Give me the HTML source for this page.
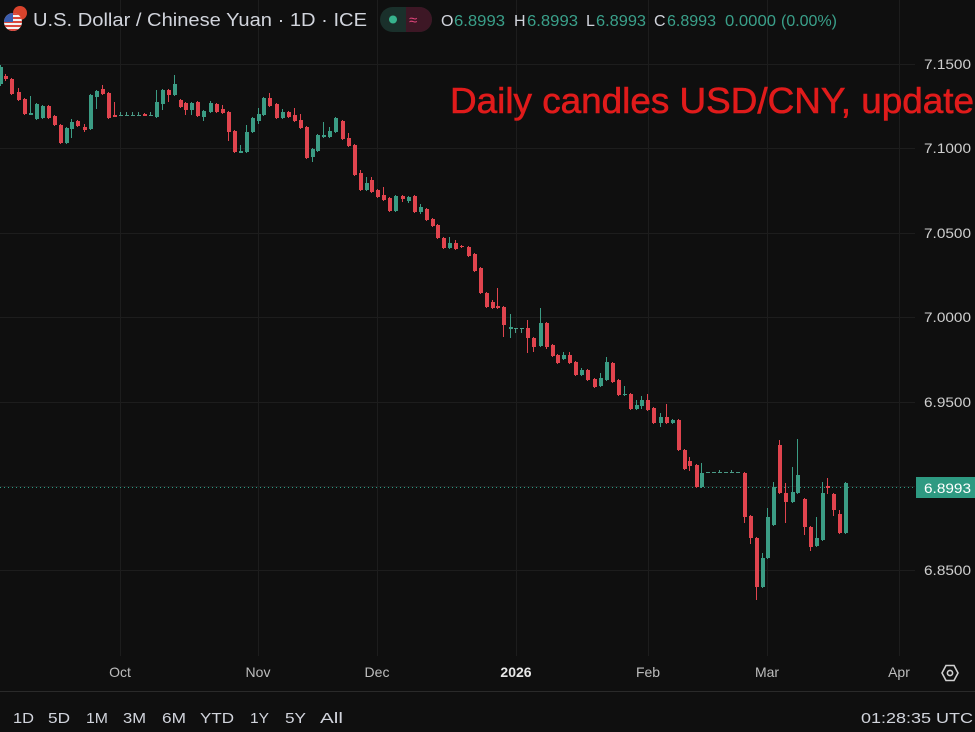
<!DOCTYPE html>
<html><head><meta charset="utf-8"><style>
html,body{margin:0;padding:0;background:#0f0f0f;}
svg{display:block;}
text{font-family:"Liberation Sans",sans-serif;}
.g{fill:#3b9c84}.r{fill:#e0444e}.f{fill:#4a9a86}
</style></head><body>
<svg width="975" height="732" viewBox="0 0 975 732" xmlns="http://www.w3.org/2000/svg">
<rect width="975" height="732" fill="#0f0f0f"/>
<!-- grid -->
<g fill="#1d1d1d">
<rect x="0" y="64" width="915" height="1"/>
<rect x="0" y="148" width="915" height="1"/>
<rect x="0" y="233" width="915" height="1"/>
<rect x="0" y="317" width="915" height="1"/>
<rect x="0" y="402" width="915" height="1"/>
<rect x="0" y="486" width="915" height="1"/>
<rect x="0" y="570" width="915" height="1"/>
<rect x="120" y="0" width="1" height="656"/>
<rect x="258" y="0" width="1" height="656"/>
<rect x="377" y="0" width="1" height="656"/>
<rect x="516" y="0" width="1" height="656"/>
<rect x="648" y="0" width="1" height="656"/>
<rect x="767" y="0" width="1" height="656"/>
<rect x="899" y="0" width="1" height="656"/>
</g>
<!-- price line -->
<line x1="0" y1="487.5" x2="916" y2="487.5" stroke="#2a9d86" stroke-width="1" stroke-dasharray="1,3"/>
<!-- candles -->
<g>
<rect class="g" x="0" y="65" width="1" height="21"/><rect class="g" x="-1" y="67" width="4" height="17"/>
<rect class="r" x="5" y="74" width="1" height="7"/><rect class="r" x="4" y="76" width="4" height="3"/>
<rect class="r" x="11" y="78" width="1" height="17"/><rect class="r" x="10" y="79" width="4" height="15"/>
<rect class="r" x="18" y="88" width="1" height="13"/><rect class="r" x="17" y="92" width="4" height="8"/>
<rect class="r" x="24" y="98" width="1" height="17"/><rect class="r" x="23" y="99" width="4" height="15"/>
<rect class="g" x="30" y="96" width="1" height="19"/><rect class="g" x="29" y="113" width="4" height="2"/>
<rect class="g" x="36" y="103" width="1" height="17"/><rect class="g" x="35" y="104" width="4" height="15"/>
<rect class="g" x="42" y="105" width="1" height="14"/><rect class="g" x="41" y="106" width="4" height="12"/>
<rect class="r" x="48" y="105" width="1" height="14"/><rect class="r" x="47" y="106" width="4" height="12"/>
<rect class="r" x="54" y="115" width="1" height="11"/><rect class="r" x="53" y="116" width="4" height="9"/>
<rect class="r" x="60" y="124" width="1" height="20"/><rect class="r" x="59" y="125" width="4" height="18"/>
<rect class="g" x="66" y="127" width="1" height="17"/><rect class="g" x="65" y="128" width="4" height="15"/>
<rect class="g" x="71" y="119" width="1" height="19"/><rect class="g" x="70" y="122" width="4" height="7"/>
<rect class="r" x="77" y="120" width="1" height="7"/><rect class="r" x="76" y="121" width="4" height="5"/>
<rect class="r" x="84" y="124" width="1" height="8"/><rect class="r" x="83" y="127" width="4" height="3"/>
<rect class="g" x="90" y="94" width="1" height="36"/><rect class="g" x="89" y="95" width="4" height="34"/>
<rect class="g" x="96" y="90" width="1" height="19"/><rect class="g" x="95" y="91" width="4" height="6"/>
<rect class="r" x="102" y="85" width="1" height="10"/><rect class="r" x="101" y="89" width="4" height="5"/>
<rect class="r" x="108" y="92" width="1" height="27"/><rect class="r" x="107" y="93" width="4" height="25"/>
<rect class="r" x="114" y="102" width="1" height="15"/><rect class="r" x="113" y="115" width="4" height="2"/>
<rect class="f" x="120" y="112" width="1" height="4"/><rect class="f" x="119" y="115" width="4" height="1"/>
<rect class="f" x="126" y="112" width="1" height="4"/><rect class="f" x="125" y="115" width="4" height="1"/>
<rect class="f" x="132" y="112" width="1" height="4"/><rect class="f" x="131" y="115" width="4" height="1"/>
<rect class="f" x="138" y="112" width="1" height="4"/><rect class="f" x="137" y="115" width="4" height="1"/>
<rect class="r" x="144" y="113" width="1" height="3"/><rect class="r" x="143" y="114" width="4" height="2"/>
<rect class="f" x="150" y="112" width="1" height="4"/><rect class="f" x="149" y="115" width="4" height="1"/>
<rect class="g" x="156" y="90" width="1" height="28"/><rect class="g" x="155" y="102" width="4" height="15"/>
<rect class="g" x="162" y="89" width="1" height="21"/><rect class="g" x="161" y="90" width="4" height="14"/>
<rect class="r" x="168" y="89" width="1" height="13"/><rect class="r" x="167" y="90" width="4" height="5"/>
<rect class="g" x="174" y="75" width="1" height="21"/><rect class="g" x="173" y="84" width="4" height="11"/>
<rect class="r" x="180" y="99" width="1" height="9"/><rect class="r" x="179" y="100" width="4" height="7"/>
<rect class="r" x="185" y="102" width="1" height="13"/><rect class="r" x="184" y="103" width="4" height="7"/>
<rect class="g" x="191" y="102" width="1" height="13"/><rect class="g" x="190" y="103" width="4" height="7"/>
<rect class="r" x="197" y="101" width="1" height="16"/><rect class="r" x="196" y="102" width="4" height="14"/>
<rect class="g" x="203" y="110" width="1" height="11"/><rect class="g" x="202" y="111" width="4" height="6"/>
<rect class="g" x="210" y="101" width="1" height="12"/><rect class="g" x="209" y="103" width="4" height="9"/>
<rect class="r" x="216" y="103" width="1" height="10"/><rect class="r" x="215" y="104" width="4" height="8"/>
<rect class="r" x="222" y="105" width="1" height="9"/><rect class="r" x="221" y="109" width="4" height="4"/>
<rect class="r" x="228" y="111" width="1" height="30"/><rect class="r" x="227" y="112" width="4" height="20"/>
<rect class="r" x="234" y="130" width="1" height="23"/><rect class="r" x="233" y="131" width="4" height="21"/>
<rect class="g" x="240" y="145" width="1" height="8"/><rect class="g" x="239" y="151" width="4" height="2"/>
<rect class="g" x="246" y="125" width="1" height="28"/><rect class="g" x="245" y="132" width="4" height="20"/>
<rect class="g" x="252" y="117" width="1" height="16"/><rect class="g" x="251" y="118" width="4" height="14"/>
<rect class="g" x="258" y="108" width="1" height="16"/><rect class="g" x="257" y="114" width="4" height="7"/>
<rect class="g" x="263" y="97" width="1" height="19"/><rect class="g" x="262" y="98" width="4" height="17"/>
<rect class="r" x="269" y="93" width="1" height="14"/><rect class="r" x="268" y="98" width="4" height="8"/>
<rect class="r" x="276" y="103" width="1" height="16"/><rect class="r" x="275" y="104" width="4" height="14"/>
<rect class="g" x="282" y="109" width="1" height="10"/><rect class="g" x="281" y="112" width="4" height="6"/>
<rect class="r" x="288" y="111" width="1" height="7"/><rect class="r" x="287" y="112" width="4" height="5"/>
<rect class="r" x="294" y="108" width="1" height="14"/><rect class="r" x="293" y="115" width="4" height="6"/>
<rect class="r" x="300" y="114" width="1" height="15"/><rect class="r" x="299" y="120" width="4" height="8"/>
<rect class="r" x="306" y="126" width="1" height="33"/><rect class="r" x="305" y="127" width="4" height="31"/>
<rect class="g" x="312" y="148" width="1" height="14"/><rect class="g" x="311" y="149" width="4" height="8"/>
<rect class="g" x="317" y="134" width="1" height="18"/><rect class="g" x="316" y="135" width="4" height="16"/>
<rect class="g" x="323" y="122" width="1" height="16"/><rect class="g" x="322" y="135" width="4" height="2"/>
<rect class="g" x="329" y="127" width="1" height="11"/><rect class="g" x="328" y="131" width="4" height="6"/>
<rect class="g" x="335" y="117" width="1" height="16"/><rect class="g" x="334" y="118" width="4" height="14"/>
<rect class="r" x="342" y="120" width="1" height="20"/><rect class="r" x="341" y="121" width="4" height="18"/>
<rect class="r" x="348" y="133" width="1" height="14"/><rect class="r" x="347" y="138" width="4" height="8"/>
<rect class="r" x="354" y="144" width="1" height="32"/><rect class="r" x="353" y="145" width="4" height="30"/>
<rect class="r" x="360" y="170" width="1" height="21"/><rect class="r" x="359" y="173" width="4" height="17"/>
<rect class="g" x="366" y="177" width="1" height="14"/><rect class="g" x="365" y="183" width="4" height="7"/>
<rect class="r" x="371" y="177" width="1" height="16"/><rect class="r" x="370" y="180" width="4" height="12"/>
<rect class="r" x="377" y="189" width="1" height="9"/><rect class="r" x="376" y="190" width="4" height="7"/>
<rect class="r" x="383" y="187" width="1" height="14"/><rect class="r" x="382" y="195" width="4" height="5"/>
<rect class="r" x="389" y="197" width="1" height="15"/><rect class="r" x="388" y="198" width="4" height="13"/>
<rect class="g" x="395" y="195" width="1" height="17"/><rect class="g" x="394" y="196" width="4" height="15"/>
<rect class="r" x="402" y="195" width="1" height="7"/><rect class="r" x="401" y="196" width="4" height="3"/>
<rect class="g" x="408" y="196" width="1" height="7"/><rect class="g" x="407" y="197" width="4" height="4"/>
<rect class="r" x="414" y="195" width="1" height="18"/><rect class="r" x="413" y="196" width="4" height="16"/>
<rect class="g" x="420" y="204" width="1" height="10"/><rect class="g" x="419" y="207" width="4" height="5"/>
<rect class="r" x="426" y="208" width="1" height="13"/><rect class="r" x="425" y="209" width="4" height="11"/>
<rect class="r" x="432" y="218" width="1" height="9"/><rect class="r" x="431" y="219" width="4" height="7"/>
<rect class="r" x="437" y="224" width="1" height="15"/><rect class="r" x="436" y="225" width="4" height="13"/>
<rect class="r" x="443" y="237" width="1" height="12"/><rect class="r" x="442" y="238" width="4" height="10"/>
<rect class="g" x="449" y="237" width="1" height="12"/><rect class="g" x="448" y="243" width="4" height="5"/>
<rect class="r" x="455" y="240" width="1" height="10"/><rect class="r" x="454" y="243" width="4" height="6"/>
<rect class="r" x="461" y="245" width="1" height="3"/><rect class="r" x="460" y="246" width="4" height="1"/>
<rect class="r" x="468" y="246" width="1" height="11"/><rect class="r" x="467" y="247" width="4" height="9"/>
<rect class="r" x="474" y="253" width="1" height="19"/><rect class="r" x="473" y="254" width="4" height="17"/>
<rect class="r" x="480" y="267" width="1" height="27"/><rect class="r" x="479" y="268" width="4" height="25"/>
<rect class="r" x="486" y="292" width="1" height="16"/><rect class="r" x="485" y="293" width="4" height="14"/>
<rect class="r" x="492" y="300" width="1" height="9"/><rect class="r" x="491" y="302" width="4" height="6"/>
<rect class="r" x="497" y="288" width="1" height="21"/><rect class="r" x="496" y="306" width="4" height="2"/>
<rect class="r" x="503" y="306" width="1" height="31"/><rect class="r" x="502" y="307" width="4" height="18"/>
<rect class="g" x="510" y="314" width="1" height="24"/><rect class="g" x="509" y="327" width="4" height="2"/>
<rect class="f" x="515" y="328" width="1" height="5"/><rect class="f" x="514" y="328" width="4" height="1"/>
<rect class="f" x="521" y="328" width="1" height="5"/><rect class="f" x="520" y="328" width="4" height="1"/>
<rect class="r" x="527" y="320" width="1" height="33"/><rect class="r" x="526" y="328" width="4" height="10"/>
<rect class="r" x="533" y="337" width="1" height="15"/><rect class="r" x="532" y="338" width="4" height="9"/>
<rect class="g" x="540" y="308" width="1" height="39"/><rect class="g" x="539" y="323" width="4" height="23"/>
<rect class="r" x="546" y="322" width="1" height="27"/><rect class="r" x="545" y="323" width="4" height="24"/>
<rect class="r" x="552" y="344" width="1" height="13"/><rect class="r" x="551" y="345" width="4" height="11"/>
<rect class="r" x="557" y="354" width="1" height="10"/><rect class="r" x="556" y="355" width="4" height="8"/>
<rect class="g" x="563" y="352" width="1" height="8"/><rect class="g" x="562" y="355" width="4" height="4"/>
<rect class="r" x="569" y="352" width="1" height="12"/><rect class="r" x="568" y="355" width="4" height="8"/>
<rect class="r" x="575" y="361" width="1" height="15"/><rect class="r" x="574" y="362" width="4" height="13"/>
<rect class="g" x="581" y="368" width="1" height="8"/><rect class="g" x="580" y="370" width="4" height="5"/>
<rect class="r" x="587" y="369" width="1" height="12"/><rect class="r" x="586" y="370" width="4" height="10"/>
<rect class="r" x="594" y="378" width="1" height="10"/><rect class="r" x="593" y="379" width="4" height="8"/>
<rect class="g" x="600" y="373" width="1" height="14"/><rect class="g" x="599" y="378" width="4" height="8"/>
<rect class="g" x="606" y="357" width="1" height="24"/><rect class="g" x="605" y="362" width="4" height="18"/>
<rect class="r" x="612" y="362" width="1" height="21"/><rect class="r" x="611" y="363" width="4" height="19"/>
<rect class="r" x="618" y="379" width="1" height="17"/><rect class="r" x="617" y="380" width="4" height="15"/>
<rect class="g" x="624" y="386" width="1" height="10"/><rect class="g" x="623" y="394" width="4" height="1"/>
<rect class="r" x="630" y="393" width="1" height="17"/><rect class="r" x="629" y="394" width="4" height="15"/>
<rect class="g" x="636" y="400" width="1" height="10"/><rect class="g" x="635" y="405" width="4" height="4"/>
<rect class="g" x="641" y="396" width="1" height="13"/><rect class="g" x="640" y="400" width="4" height="6"/>
<rect class="r" x="647" y="394" width="1" height="17"/><rect class="r" x="646" y="400" width="4" height="10"/>
<rect class="r" x="653" y="407" width="1" height="17"/><rect class="r" x="652" y="408" width="4" height="15"/>
<rect class="g" x="660" y="413" width="1" height="14"/><rect class="g" x="659" y="417" width="4" height="6"/>
<rect class="r" x="666" y="404" width="1" height="20"/><rect class="r" x="665" y="417" width="4" height="6"/>
<rect class="g" x="672" y="419" width="1" height="5"/><rect class="g" x="671" y="420" width="4" height="3"/>
<rect class="r" x="678" y="419" width="1" height="32"/><rect class="r" x="677" y="420" width="4" height="30"/>
<rect class="r" x="684" y="449" width="1" height="21"/><rect class="r" x="683" y="450" width="4" height="19"/>
<rect class="r" x="689" y="457" width="1" height="14"/><rect class="r" x="688" y="461" width="4" height="5"/>
<rect class="r" x="696" y="464" width="1" height="24"/><rect class="r" x="695" y="465" width="4" height="22"/>
<rect class="g" x="701" y="463" width="1" height="25"/><rect class="g" x="700" y="473" width="4" height="14"/>
<rect class="f" x="706" y="472" width="4" height="1"/>
<rect class="f" x="712" y="472" width="4" height="1"/>
<rect class="f" x="719" y="470" width="1" height="3"/><rect class="f" x="718" y="472" width="4" height="1"/>
<rect class="f" x="724" y="472" width="4" height="1"/>
<rect class="f" x="731" y="470" width="1" height="3"/><rect class="f" x="730" y="472" width="4" height="1"/>
<rect class="f" x="736" y="472" width="4" height="1"/>
<rect class="r" x="744" y="472" width="1" height="51"/><rect class="r" x="743" y="473" width="4" height="44"/>
<rect class="r" x="750" y="515" width="1" height="29"/><rect class="r" x="749" y="516" width="4" height="22"/>
<rect class="r" x="756" y="537" width="1" height="63"/><rect class="r" x="755" y="538" width="4" height="49"/>
<rect class="g" x="762" y="553" width="1" height="35"/><rect class="g" x="761" y="558" width="4" height="29"/>
<rect class="g" x="767" y="508" width="1" height="51"/><rect class="g" x="766" y="517" width="4" height="41"/>
<rect class="g" x="773" y="482" width="1" height="44"/><rect class="g" x="772" y="487" width="4" height="38"/>
<rect class="r" x="779" y="440" width="1" height="54"/><rect class="r" x="778" y="445" width="4" height="48"/>
<rect class="r" x="785" y="483" width="1" height="40"/><rect class="r" x="784" y="493" width="4" height="9"/>
<rect class="g" x="792" y="467" width="1" height="36"/><rect class="g" x="791" y="492" width="4" height="10"/>
<rect class="g" x="797" y="439" width="1" height="55"/><rect class="g" x="796" y="475" width="4" height="18"/>
<rect class="r" x="804" y="498" width="1" height="37"/><rect class="r" x="803" y="499" width="4" height="28"/>
<rect class="r" x="810" y="526" width="1" height="25"/><rect class="r" x="809" y="527" width="4" height="20"/>
<rect class="g" x="816" y="517" width="1" height="30"/><rect class="g" x="815" y="538" width="4" height="8"/>
<rect class="g" x="822" y="482" width="1" height="59"/><rect class="g" x="821" y="493" width="4" height="47"/>
<rect class="r" x="827" y="478" width="1" height="16"/><rect class="r" x="826" y="486" width="4" height="2"/>
<rect class="r" x="833" y="493" width="1" height="23"/><rect class="r" x="832" y="494" width="4" height="16"/>
<rect class="r" x="839" y="510" width="1" height="24"/><rect class="r" x="838" y="514" width="4" height="19"/>
<rect class="g" x="845" y="482" width="1" height="52"/><rect class="g" x="844" y="483" width="4" height="50"/>
</g>
<!-- price axis labels -->
<g font-size="14" fill="#cfcfcf">
<text x="924" y="69" textLength="47" lengthAdjust="spacingAndGlyphs">7.1500</text>
<text x="924" y="153" textLength="47" lengthAdjust="spacingAndGlyphs">7.1000</text>
<text x="924" y="238" textLength="47" lengthAdjust="spacingAndGlyphs">7.0500</text>
<text x="924" y="322" textLength="47" lengthAdjust="spacingAndGlyphs">7.0000</text>
<text x="924" y="407" textLength="47" lengthAdjust="spacingAndGlyphs">6.9500</text>
<text x="924" y="575" textLength="47" lengthAdjust="spacingAndGlyphs">6.8500</text>
</g>
<rect x="916" y="477" width="59" height="21" fill="#2e9a82"/>
<text x="924" y="493" font-size="14" fill="#ffffff" textLength="47" lengthAdjust="spacingAndGlyphs">6.8993</text>
<!-- annotation -->
<text x="450" y="113" font-size="36" fill="#e01b1b" stroke="#e01b1b" stroke-width="0.6" textLength="524" lengthAdjust="spacingAndGlyphs">Daily candles USD/CNY, update</text>
<!-- header -->
<circle cx="20" cy="13" r="7" fill="#d8432c"/>
<g>
<clipPath id="fc"><circle cx="13" cy="22" r="9"/></clipPath>
<g clip-path="url(#fc)">
<rect x="4" y="13" width="18" height="18" fill="#f2f2f2"/>
<rect x="4" y="13" width="18" height="2" fill="#d9463a"/>
<rect x="4" y="17" width="18" height="2" fill="#d9463a"/>
<rect x="4" y="21" width="18" height="2" fill="#d9463a"/>
<rect x="4" y="25" width="18" height="2" fill="#d9463a"/>
<rect x="4" y="29" width="18" height="2" fill="#d9463a"/>
<rect x="4" y="13" width="9" height="9" fill="#3a5dae"/>
</g>
</g>
<text x="33" y="26" font-size="18" fill="#d1d4dc" textLength="334" lengthAdjust="spacingAndGlyphs">U.S. Dollar / Chinese Yuan · 1D · ICE</text>
<rect x="380" y="7" width="52" height="25" rx="12.5" fill="#1a302b"/>
<path d="M406 7 H419.5 A12.5 12.5 0 0 1 419.5 32 H406 Z" fill="#3d1725"/>
<circle cx="393" cy="19.5" r="4" fill="#37b38d"/>
<text x="409" y="25" font-size="15" fill="#e0457b">≈</text>
<g font-size="16">
<text x="441" y="26" fill="#d1d4dc">O</text><text x="454" y="26" fill="#3aa08a" textLength="51" lengthAdjust="spacingAndGlyphs">6.8993</text>
<text x="514" y="26" fill="#d1d4dc">H</text><text x="527" y="26" fill="#3aa08a" textLength="51" lengthAdjust="spacingAndGlyphs">6.8993</text>
<text x="586" y="26" fill="#d1d4dc">L</text><text x="596" y="26" fill="#3aa08a" textLength="50" lengthAdjust="spacingAndGlyphs">6.8993</text>
<text x="654" y="26" fill="#d1d4dc">C</text><text x="667" y="26" fill="#3aa08a" textLength="49" lengthAdjust="spacingAndGlyphs">6.8993</text>
<text x="725" y="26" fill="#3aa08a" textLength="51" lengthAdjust="spacingAndGlyphs">0.0000</text>
<text x="781" y="26" fill="#3aa08a" textLength="56" lengthAdjust="spacingAndGlyphs">(0.00%)</text>
</g>
<!-- time axis -->
<g font-size="14" fill="#bdbdbd" text-anchor="middle">
<text x="120" y="677">Oct</text>
<text x="258" y="677">Nov</text>
<text x="377" y="677">Dec</text>
<text x="516" y="677" fill="#e6e6e6" font-weight="bold">2026</text>
<text x="648" y="677">Feb</text>
<text x="767" y="677">Mar</text>
<text x="899" y="677">Apr</text>
</g>
<path d="M946 665.5 L954 665.5 L958 673 L954 680.5 L946 680.5 L942 673 Z" fill="none" stroke="#d0d0d0" stroke-width="1.6"/>
<circle cx="950" cy="673" r="2.6" fill="none" stroke="#d0d0d0" stroke-width="1.6"/>
<rect x="0" y="691" width="975" height="1" fill="#2a2a2a"/>
<!-- bottom bar -->
<g font-size="15" fill="#d1d4dc">
<text x="13" y="723" textLength="21" lengthAdjust="spacingAndGlyphs">1D</text>
<text x="48" y="723" textLength="22" lengthAdjust="spacingAndGlyphs">5D</text>
<text x="86" y="723" textLength="22" lengthAdjust="spacingAndGlyphs">1M</text>
<text x="123" y="723" textLength="23" lengthAdjust="spacingAndGlyphs">3M</text>
<text x="162" y="723" textLength="24" lengthAdjust="spacingAndGlyphs">6M</text>
<text x="200" y="723" textLength="34" lengthAdjust="spacingAndGlyphs">YTD</text>
<text x="250" y="723" textLength="19" lengthAdjust="spacingAndGlyphs">1Y</text>
<text x="285" y="723" textLength="21" lengthAdjust="spacingAndGlyphs">5Y</text>
<text x="320" y="723" textLength="23" lengthAdjust="spacingAndGlyphs">All</text>
<text x="861" y="723" textLength="112" lengthAdjust="spacingAndGlyphs">01:28:35 UTC</text>
</g>
</svg>
</body></html>
